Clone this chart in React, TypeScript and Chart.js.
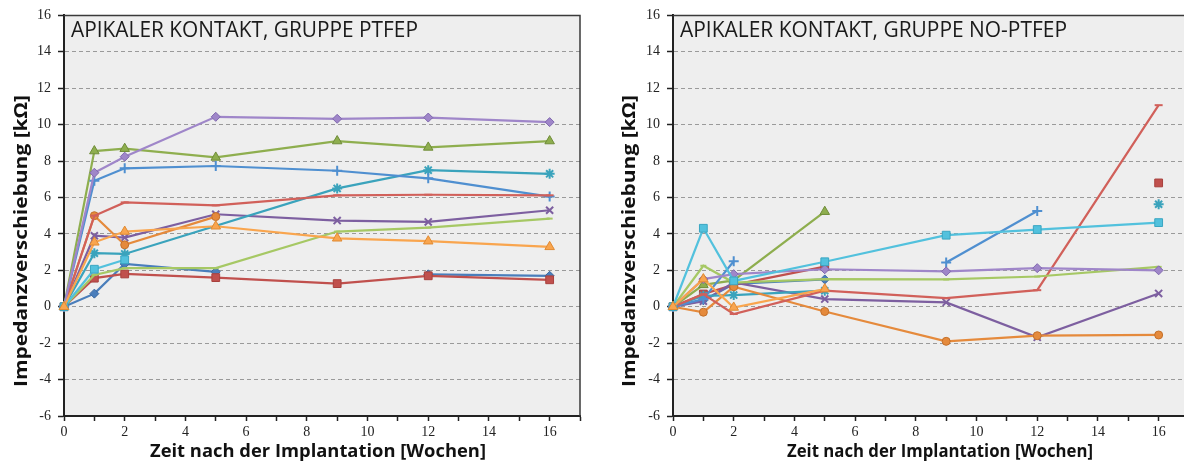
import React, { useEffect, useRef } from 'react';
import { Chart, registerables } from 'chart.js';
Chart.register(...registerables);

// ---------- data ----------
const weeks = [0, 1, 2, 5, 9, 12, 16];
const yTickStep = 2;
const yMin = -6;
const yMax = 16;
const xMax = 17;

const leftTitle = 'APIKALER KONTAKT, GRUPPE PTFEP';
const rightTitle = 'APIKALER KONTAKT, GRUPPE NO-PTFEP';
const yAxisTitle = 'Impedanzverschiebung [kΩ]';
const xAxisTitle = 'Zeit nach der Implantation [Wochen]';

// PTFEP group (left)
const ptfep1 = [0, 0.72, 2.35, 1.92, null, 1.78, 1.7];
const ptfep2 = [0, 1.57, 1.8, 1.6, 1.27, 1.7, 1.48];
const ptfep3 = [0, 8.55, 8.68, 8.2, 9.1, 8.75, 9.1];
const ptfep4 = [0, 3.9, 3.8, 5.08, 4.73, 4.66, 5.3];
const ptfep5 = [0, 2.94, 2.9, null, 6.5, 7.5, 7.3];
const ptfep6 = [0, 5.0, 3.4, 4.95, null, null, null];
const ptfep7 = [0, 6.92, 7.6, 7.73, 7.47, 7.05, 6.05];
const ptfep8 = [0, 5.0, 5.73, 5.57, 6.12, 6.15, 6.12];
const ptfep9 = [0, 1.75, 2.12, 2.12, 4.13, 4.35, 4.84];
const ptfep10 = [0, 7.36, 8.24, 10.43, 10.32, 10.39, 10.14];
const ptfep11 = [0, 2.06, 2.58, null, null, null, null];
const ptfep12 = [0, 3.54, 4.13, 4.42, 3.76, 3.6, 3.29];
const ptfepSpan = [false, false, false, false, true, false, false, false, false, false, false, false];

// NO-PTFEP group (right)
const noPtfep1 = [0, 0.35, 1.25, 1.5, null, null, null];
const noPtfep2 = [0, 0.7, 1.2, 2.2, null, null, 6.8];
const noPtfep3 = [0, 1.2, 1.45, 5.22, null, null, null];
const noPtfep4 = [0, 0.3, 1.33, 0.42, 0.24, -1.68, 0.73];
const noPtfep5 = [0, 0.6, 0.64, 0.88, null, null, 5.63];
const noPtfep6 = [0, -0.3, 1.1, -0.26, -1.9, -1.59, -1.55];
const noPtfep7 = [0, 0.42, 2.5, null, 2.43, 5.26, null];
const noPtfep8 = [0, 0.69, -0.4, 0.88, 0.47, 0.91, 11.07];
const noPtfep9 = [0, 2.25, 1.33, 1.52, 1.5, 1.66, 2.19];
const noPtfep10 = [0, 1.52, 1.79, 2.06, 1.94, 2.12, 2.0];
const noPtfep11 = [0, 4.31, 1.42, 2.47, 3.93, 4.24, 4.62];
const noPtfep12 = [0, 1.52, -0.04, 0.97, null, null, null];
const noPtfepSpan = [false, false, false, false, false, false, false, false, false, false, false, false];

// ---------- styles ----------
const lineColors = ['#4A7EBB', '#C0504D', '#8EAE4E', '#7D5FA0', '#3AA3BC', '#E58A3C', '#4F8FD0', '#D1605A', '#A6C864', '#9F86C9', '#52C1DD', '#F9A54E'];
const markerBorders = ['#3A68A0', '#A8403D', '#6F8C38', '#644886', '#2F8AA0', '#C4702A', '#3C78B8', '#B84A45', '#8AAE4C', '#8068AE', '#3AA6C2', '#E08A32'];
const markerStyles = ['rectRot', 'rect', 'triangle', 'crossRot', 'star', 'circle', 'cross', 'line', 'line', 'rectRot', 'rect', 'triangle'];
const markerRadii = [4.5, 5.5, 5.5, 5, 5, 4, 5, 4, 3, 4.5, 5.5, 5.5];

function makeDatasets(series: (number | null)[][], spans: boolean[]) {
  return series.map((vals, i) => ({
    label: 'S' + (i + 1),
    data: weeks.map((w, k) => ({ x: w, y: vals[k] })),
    borderColor: lineColors[i],
    backgroundColor: lineColors[i],
    borderWidth: 2.2,
    pointStyle: markerStyles[i],
    pointRadius: markerRadii[i],
    pointBackgroundColor: lineColors[i],
    pointBorderColor: ['crossRot', 'star', 'cross', 'line'].includes(markerStyles[i]) ? lineColors[i] : markerBorders[i],
    pointBorderWidth: ['crossRot', 'star', 'cross', 'line'].includes(markerStyles[i]) ? 2 : 1,
    tension: 0,
    spanGaps: spans[i],
    order: -i,
    clip: false as any,
  }));
}

function drawFitText(ctx: CanvasRenderingContext2D, text: string, font: string, cx: number, cy: number, targetW: number, rotate: boolean, color: string) {
  ctx.save();
  ctx.font = font;
  ctx.fillStyle = color;
  ctx.textAlign = 'center';
  ctx.textBaseline = 'middle';
  const w = ctx.measureText(text).width;
  const sx = targetW / w;
  ctx.translate(cx, cy);
  if (rotate) ctx.rotate(-Math.PI / 2);
  ctx.scale(sx, 1);
  ctx.fillText(text, 0, 0);
  ctx.restore();
}

function makePlugin(title: string, titleW: number, yTitleX: number, xTitleX: number, xTitleW: number) {
  return {
    id: 'decor',
    beforeDraw(chart: any) {
      const { ctx, chartArea: a } = chart;
      ctx.save();
      ctx.fillStyle = '#eeeeee';
      ctx.fillRect(a.left, a.top, a.right - a.left, a.bottom - a.top);
      ctx.restore();
    },
    afterDraw(chart: any) {
      const { ctx, chartArea: a } = chart;
      ctx.save();
      ctx.strokeStyle = '#3a3a3a';
      ctx.lineWidth = 1.5;
      ctx.beginPath();
      ctx.moveTo(a.left, a.top);
      ctx.lineTo(a.right, a.top);
      ctx.lineTo(a.right, a.bottom);
      ctx.stroke();
      ctx.restore();
      // heading inside plot
      ctx.save();
      ctx.font = '21px "Open Sans"';
      ctx.fillStyle = '#1a1a1a';
      ctx.textAlign = 'left';
      ctx.textBaseline = 'alphabetic';
      const w = ctx.measureText(title).width;
      ctx.translate(a.left + 7, 37);
      ctx.scale(titleW / w, 1);
      ctx.fillText(title, 0, 0);
      ctx.restore();
      drawFitText(ctx, yAxisTitle, 'bold 18px "Open Sans"', yTitleX, 241, 292, true, '#111');
      drawFitText(ctx, xAxisTitle, 'bold 17px "Open Sans"', xTitleX, 452, xTitleW, false, '#111');
    },
  };
}

function makeConfig(series: (number | null)[][], spans: boolean[], yWidth: number, padRight: number, plugin: any) {
  return {
    type: 'line' as const,
    data: { datasets: makeDatasets(series, spans) },
    options: {
      animation: false as const,
      responsive: false,
      layout: { padding: { left: 0, top: 15, right: padRight, bottom: 0 } },
      plugins: { legend: { display: false }, tooltip: { enabled: false } },
      scales: {
        x: {
          type: 'linear' as const,
          min: 0,
          max: xMax,
          afterFit: (s: any) => { s.height = 47; },
          ticks: {
            stepSize: 1,
            autoSkip: false,
            maxRotation: 0,
            padding: 3,
            color: '#222',
            font: { family: '"Liberation Serif"', size: 14 },
            callback: (v: any) => (v % 2 === 0 && v <= 16 ? String(v) : ''),
          },
          grid: { drawOnChartArea: false, drawTicks: true, tickLength: 5, tickColor: '#222', tickWidth: 1.5 },
          border: { color: '#222', width: 2 },
        },
        y: {
          min: yMin,
          max: yMax,
          afterFit: (s: any) => { s.width = yWidth; },
          ticks: {
            stepSize: yTickStep,
            padding: 7,
            color: '#222',
            font: { family: '"Liberation Serif"', size: 14 },
          },
          grid: { color: '#9a9a9a', lineWidth: 1, tickLength: 6, tickColor: '#222', tickWidth: 1.5 },
          border: { color: '#222', width: 2, dash: [4, 3] },
        },
      },
    },
    plugins: [plugin],
  };
}

const leftSeries = [ptfep1, ptfep2, ptfep3, ptfep4, ptfep5, ptfep6, ptfep7, ptfep8, ptfep9, ptfep10, ptfep11, ptfep12];
const rightSeries = [noPtfep1, noPtfep2, noPtfep3, noPtfep4, noPtfep5, noPtfep6, noPtfep7, noPtfep8, noPtfep9, noPtfep10, noPtfep11, noPtfep12];

export default function App() {
  const leftRef = useRef<HTMLCanvasElement>(null);
  const rightRef = useRef<HTMLCanvasElement>(null);
  useEffect(() => {
    const c1 = new Chart(leftRef.current as any, makeConfig(leftSeries, ptfepSpan, 64, 20, makePlugin(leftTitle, 347, 22, 318, 336)) as any);
    const c2 = new Chart(rightRef.current as any, makeConfig(rightSeries, noPtfepSpan, 73, 11, makePlugin(rightTitle, 387, 30, 340, 306)) as any);
    return () => { c1.destroy(); c2.destroy(); };
  }, []);
  return (
    <div style={{ position: 'fixed', left: 0, top: 0, width: 1184, height: 463, overflow: 'hidden', background: '#fff' }}>
      <canvas ref={leftRef} width={600} height={463} style={{ position: 'absolute', left: 0, top: 0, width: 600, height: 463 }} />
      <canvas ref={rightRef} width={600} height={463} style={{ position: 'absolute', left: 600, top: 0, width: 600, height: 463 }} />
    </div>
  );
}
